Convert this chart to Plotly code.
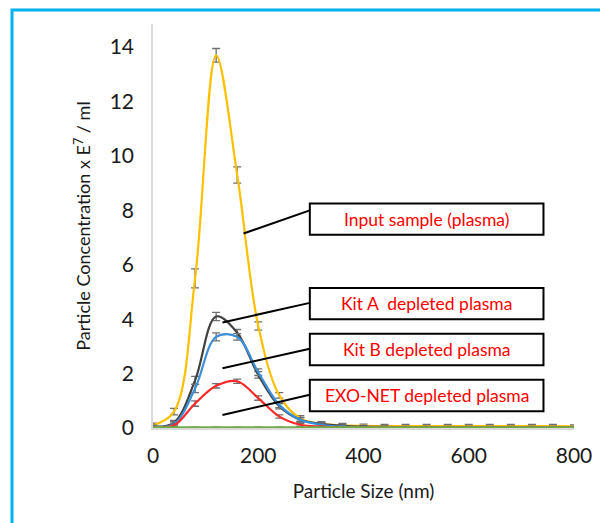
import plotly.graph_objects as go

# ---- data ----
sizes_nm = [0, 40, 80, 120, 160, 200, 240, 280, 320, 360, 400, 440, 480, 520,
            560, 600, 640, 680, 720, 760, 800]
input_sample = [0.1, 0.6, 5.5, 13.7, 9.3, 3.75, 1.2, 0.35, 0.15, 0.1, 0.08,
                0.07, 0.07, 0.07, 0.07, 0.07, 0.07, 0.07, 0.07, 0.07, 0.06]
input_err = [0.08, 0.12, 0.35, 0.25, 0.3, 0.15, 0.1, 0.1, 0.08, 0.07, 0.06,
             0.06, 0.06, 0.06, 0.06, 0.06, 0.06, 0.06, 0.06, 0.06, 0.05]
kit_a = [0.05, 0.2, 1.75, 4.1, 3.5, 1.95, 0.8, 0.3, 0.15, 0.08, 0.05,
         0.04, 0.03, 0.03, 0.03, 0.03, 0.03, 0.03, 0.03, 0.03, 0.03]
kit_a_err = [0.05, 0.08, 0.15, 0.15, 0.12, 0.12, 0.1, 0.08, 0.06, 0.05, 0.04,
             0.03, 0.03, 0.03, 0.03, 0.03, 0.03, 0.03, 0.03, 0.03, 0.03]
kit_b = [0.05, 0.15, 1.45, 3.35, 3.35, 2.05, 0.85, 0.3, 0.12, 0.05, 0.03,
         0.03, 0.03, 0.03, 0.03, 0.03, 0.03, 0.03, 0.03, 0.03, 0.03]
kit_b_err = [0.05, 0.08, 0.15, 0.15, 0.12, 0.12, 0.1, 0.08, 0.06, 0.04, 0.03,
             0.03, 0.03, 0.03, 0.03, 0.03, 0.03, 0.03, 0.03, 0.03, 0.03]
exonet = [0.03, 0.1, 0.9, 1.55, 1.72, 1.1, 0.42, 0.12, 0.05, 0.02, 0.02,
          0.02, 0.02, 0.02, 0.02, 0.02, 0.02, 0.02, 0.02, 0.02, 0.02]
exonet_err = [0.03, 0.05, 0.1, 0.08, 0.08, 0.08, 0.06, 0.05, 0.03, 0.02, 0.02,
              0.02, 0.02, 0.02, 0.02, 0.02, 0.02, 0.02, 0.02, 0.02, 0.02]
control = [0.02] * 21
control_err = [0.01] * 21

series = [
    ("Input sample (plasma)", input_sample, input_err, "#FFC000"),
    ("Kit A  depleted plasma", kit_a, kit_a_err, "#404040"),
    ("Kit B depleted plasma", kit_b, kit_b_err, "#3A8FD9"),
    ("EXO-NET depleted plasma", exonet, exonet_err, "#FF2B2B"),
    ("Control", control, control_err, "#70AD47"),
]

# callout labels: (text, box x0, box x1, box y0, box y1, leader from (x,y), leader end y)
labels = [
    ("Input sample (plasma)", 298, 742, 7.1, 8.25, 172, 7.15, 8.0),
    ("Kit A  depleted plasma", 298, 742, 4.0, 5.15, 132, 3.88, 4.6),
    ("Kit B depleted plasma", 298, 742, 2.31, 3.46, 132, 2.2, 2.91),
    ("EXO-NET depleted plasma", 298, 742, 0.62, 1.77, 132, 0.48, 1.22),
]

FONT = "Lato, 'Open Sans', sans-serif"

# page body adds an 8px offset; figure is sized so the plot lands where the reference has it
W, H = 600, 515
ML, MR, MT, MB = 145, 34, 16, 95
PW, PH = W - ML - MR, H - MT - MB

fig = go.Figure()
for name, ys, errs, color in series:
    fig.add_trace(go.Scatter(
        x=sizes_nm, y=ys, name=name, mode="lines",
        line=dict(color=color, width=2.2, shape="spline", smoothing=1.0),
        error_y=dict(type="data", array=errs, visible=True,
                     color="#6f6f6f", thickness=1.3, width=4),
        showlegend=False,
    ))

for text, bx0, bx1, by0, by1, lx, ly, lyend in labels:
    fig.add_shape(type="line", xref="x", yref="y", x0=lx, y0=ly, x1=bx0, y1=lyend,
                  line=dict(color="black", width=2))
    fig.add_shape(type="rect", xref="x", yref="y", x0=bx0, x1=bx1, y0=by0, y1=by1,
                  line=dict(color="black", width=2), fillcolor="white")
    fig.add_annotation(x=(bx0 + bx1) / 2, y=(by0 + by1) / 2, xref="x", yref="y",
                       text=text, showarrow=False,
                       font=dict(family=FONT, size=17.5, color="#FF0000"))

# outer blue frame (left edge ~x=12, top ~y=10 in the page)
fig.add_shape(type="rect", xref="paper", yref="paper",
              x0=(4 - ML) / PW, x1=1.3, y0=-0.5, y1=(H - MB - 2) / PH,
              line=dict(color="#00B0F0", width=3))

fig.update_layout(
    width=W, height=H,
    margin=dict(l=ML, r=MR, t=MT, b=MB, autoexpand=False),
    paper_bgcolor="white", plot_bgcolor="white",
    font=dict(family=FONT, color="#1a1a1a"),
    xaxis=dict(range=[0, 800], tickvals=[0, 200, 400, 600, 800],
               automargin=False,
               showgrid=False, zeroline=False, showline=True,
               linecolor="#d9d9d9", linewidth=1.5, ticks="",
               tickfont=dict(size=21, family=FONT), ticklabelstandoff=8,
               title=dict(text="Particle Size (nm)", font=dict(size=19, family=FONT),
                          standoff=19)),
    yaxis=dict(range=[0, 14.85], tickvals=[0, 2, 4, 6, 8, 10, 12, 14],
               automargin=False,
               showgrid=False, zeroline=False, showline=True,
               linecolor="#d9d9d9", linewidth=1.5, ticks="",
               tickfont=dict(size=21, family=FONT), ticklabelstandoff=13,
               title=dict(text="Particle Concentration x E<sup>7</sup> / ml",
                          font=dict(size=18, family=FONT), standoff=14)),
)

fig.write_html("out.html")
